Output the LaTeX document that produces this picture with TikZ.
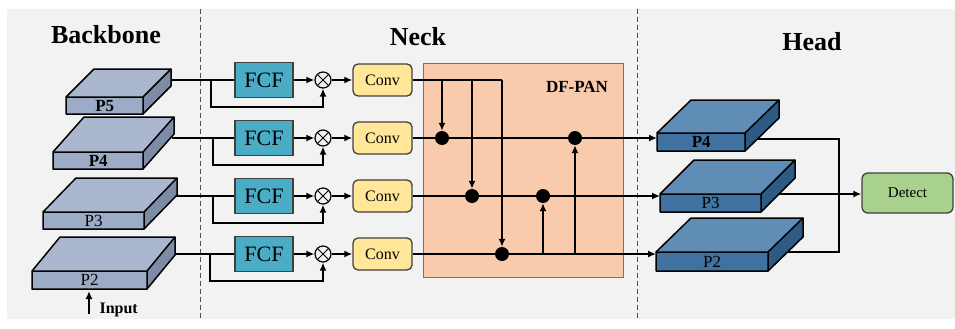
\documentclass[tikz,border=0pt]{standalone}
\usepackage{fontspec}
\setmainfont{Liberation Serif}
\usetikzlibrary{arrows.meta}
\definecolor{bgc}{HTML}{F2F2F2}
\definecolor{btop}{HTML}{AAB7CF}
\definecolor{bfront}{HTML}{9DACC6}
\definecolor{bside}{HTML}{7D8BA7}
\definecolor{htop}{HTML}{5F8DB6}
\definecolor{hfront}{HTML}{3F72A0}
\definecolor{hside}{HTML}{2E5B84}
\definecolor{fcfc}{HTML}{4BACC6}
\definecolor{convc}{HTML}{FFE699}
\definecolor{panc}{HTML}{F8CBAD}
\definecolor{detc}{HTML}{A9D18E}
\tikzset{
  line/.style={line width=1.6pt, black},
  arr/.style={line width=1.6pt, black, -{Latex[length=8pt,width=7pt]}},
  fcfbox/.style={draw=black!75, line width=1.3pt, fill=fcfc, minimum width=58pt, minimum height=35pt, inner sep=0pt, font=\fontsize{22}{22}\selectfont},
  convbox/.style={draw=black!75, line width=1.3pt, fill=convc, rounded corners=5pt, minimum width=59pt, minimum height=32pt, inner sep=0pt, font=\fontsize{16}{16}\selectfont},
  otimesnode/.style={circle, draw=black, line width=1.2pt, minimum size=16pt, inner sep=0pt, path picture={\draw[line width=1pt] (path picture bounding box.north west)--(path picture bounding box.south east) (path picture bounding box.north east)--(path picture bounding box.south west);}},
  dotnode/.style={circle, fill=black, minimum size=14pt, inner sep=0pt},
  title/.style={font=\fontsize{26}{26}\selectfont\bfseries},
  divider/.style={line width=0.6pt, black!70, dash pattern=on 5pt off 3pt},
}
% slab: #1 name, #2 x1, #3 y1, #4 x2, #5 y2, #6 dx, #7 dy(up), #8 label, #9 prefix colour (b or h)
\newcommand{\slabdraw}[9]{%
  \fill[#9top] (#2,#3) -- ++(#6,-#7) -- (#4+#6,#3-#7) -- (#4,#3) -- cycle;
  \fill[#9side] (#4,#3) -- (#4+#6,#3-#7) -- (#4+#6,#5-#7) -- (#4,#5) -- cycle;
  \node[fill=#9front, minimum width=#4pt-#2pt, minimum height=#5pt-#3pt, inner sep=0pt, anchor=north west, font=\fontsize{17}{17}\selectfont] (#1) at (#2,#3) {};
  \node[font=\fontsize{17}{17}\selectfont] (#1l) at (#1.center) {#8};
  \draw[line width=1.5pt, line join=round] (#2,#3) -- ++(#6,-#7) -- (#4+#6,#3-#7) -- (#4+#6,#5-#7) -- (#4,#5) -- (#2,#5) -- cycle;
  \draw[line width=1.5pt, line join=round] (#2,#3) -- (#4,#3) -- (#4+#6,#3-#7) (#4,#3) -- (#4,#5);
}
\begin{document}
\begin{tikzpicture}[x=1pt, y=-1pt]
\useasboundingbox (0,0) rectangle (955,329);
\fill[bgc] (7,9) rectangle (955,319);
\draw[divider] (200,9) -- (200,319);
\draw[divider] (637,9) -- (637,319);

\node[title] (tback) at (106,35) {Backbone};
\node[title] (tneck) at (418,37) {Neck};
\node[title] (thead) at (812,42) {Head};

% DF-PAN box
\node[draw=black!55, line width=1pt, fill=panc, minimum width=200pt, minimum height=214pt, inner sep=0pt, anchor=north west] (pan) at (423,63) {};
\node[font=\fontsize{17}{17}\selectfont\bfseries] (pantxt) at (577,87) {DF-PAN};

% rows
\foreach \i/\y/\bx/\sx in {1/80/211/172, 2/138/213/172, 3/196/213/174, 4/254/210/172}{
  \node[fcfbox] (fcf\i) at (264,\y) {FCF};
  \node[otimesnode] (ot\i) at (323,\y) {};
  \node[convbox] (conv\i) at (382.5,\y) {Conv};
  \coordinate (src\i) at (\sx,\y);
  \coordinate (br\i) at (\bx,\y);
  \coordinate (brd\i) at (\bx,\y+27);
  \coordinate (otd\i) at (323,\y+27);
  \draw[line] (src\i) -- (fcf\i.west);
  \draw[arr] (br\i) -- (brd\i) -- (otd\i) -- (ot\i.south);
  \draw[arr] (fcf\i.east) -- (ot\i.west);
  \draw[arr] (ot\i.east) -- (conv\i.west);
}

% DF-PAN internals
\node[dotnode] (d21) at (442,138) {};
\node[dotnode] (d31) at (472,196) {};
\node[dotnode] (d41) at (502,254) {};
\node[dotnode] (d22) at (575,138) {};
\node[dotnode] (d32) at (543,196) {};
\coordinate (c1e) at (502,80);
\coordinate (t1) at (442,80);
\coordinate (t2) at (472,80);
\coordinate (u1) at (543,254);
\coordinate (u2) at (575,254);
\draw[line] (conv1.east) -- (c1e);
\draw[arr] (t1) -- (d21.north);
\draw[arr] (t2) -- (d31.north);
\draw[arr] (c1e) -- (d41.north);
\draw[arr] (u1) -- (d32.south);
\draw[arr] (u2) -- (d22.south);

% head slab anchors
\coordinate (h4in) at (657,138);
\coordinate (h3in) at (660,196);
\coordinate (h2in) at (656,254);
\draw[arr] (conv2.east) -- (h4in);
\draw[arr] (conv3.east) -- (h3in);
\draw[arr] (conv4.east) -- (h2in);

% detect
\node[draw=black!75, line width=1.3pt, fill=detc, rounded corners=6pt, minimum width=91pt, minimum height=40pt, inner sep=0pt, font=\fontsize{15}{15}\selectfont] (det) at (907.5,193) {Detect};
\coordinate (hs4) at (750,139);
\coordinate (hs3) at (765,194);
\coordinate (hs2) at (775,252);
\coordinate (jn4) at (839,139);
\coordinate (jn2) at (839,252);
\draw[line] (hs4) -- (jn4) -- (jn2) -- (hs2);
\draw[arr] (hs3) -- (det.west |- hs3);

% input arrow
\coordinate (inb) at (89,314);
\draw[arr] (inb) -- (89,291);
\node[font=\fontsize{16}{16}\selectfont\bfseries, anchor=west] (inp) at (96,310) {Input};

% backbone slabs
\slabdraw{b5}{66}{97}{143}{114}{28}{28}{\textbf{P5}}{b}
\slabdraw{b4}{53}{152}{143}{169}{31}{35}{\textbf{P4}}{b}
\slabdraw{b3}{43}{212}{144}{229}{33}{34}{P3}{b}
\slabdraw{b2}{32}{271}{147}{289}{28}{34}{P2}{b}
% head slabs
\slabdraw{h4}{657}{133}{745}{151}{34}{33}{\textbf{P4}}{h}
\slabdraw{h3}{660}{194}{761}{212}{34}{34}{P3}{h}
\slabdraw{h2}{656}{252}{768}{271}{35}{34}{P2}{h}
\end{tikzpicture}
\end{document}
